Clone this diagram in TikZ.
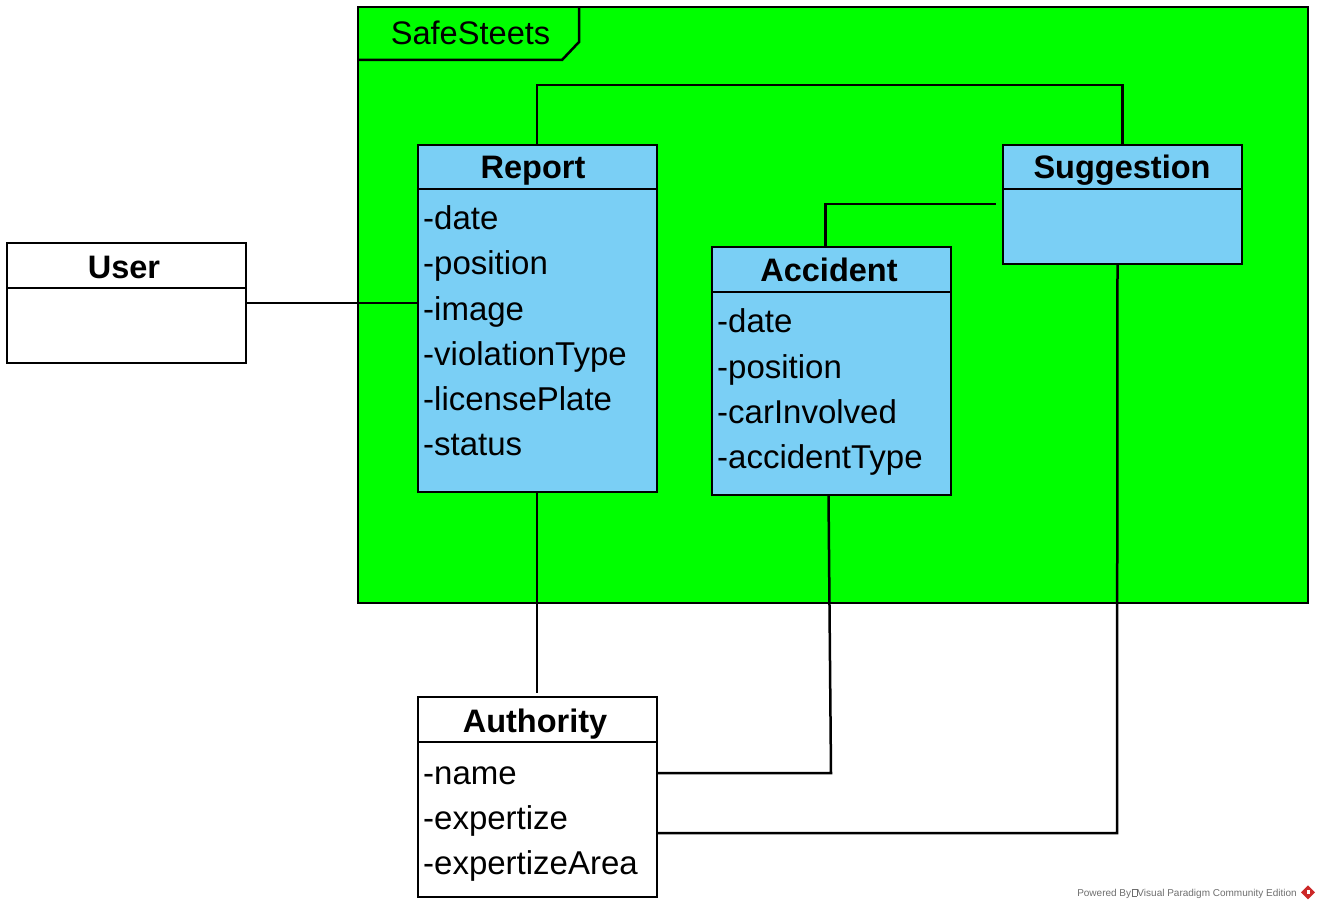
\documentclass[tikz,border=0pt]{standalone}
\usepackage{fontspec}
\setmainfont{Liberation Sans}
\definecolor{pkggreen}{RGB}{0,255,0}
\definecolor{clsblue}{RGB}{122,207,245}
\definecolor{wmgray}{RGB}{110,110,110}
\definecolor{vpred}{RGB}{204,40,40}
\tikzset{
  cls/.style={draw=black, line width=2.5pt, anchor=north west, inner sep=0pt, outer sep=0pt, minimum width=239pt},
  ttl/.style={anchor=base, inner sep=0pt, font=\fontsize{32.5}{36}\selectfont\bfseries},
  attr/.style={anchor=base west, inner sep=0pt, font=\fontsize{33}{36}\selectfont},
  conn/.style={draw=black, line width=2.5pt},
  divline/.style={draw=black, line width=2.5pt},
}
\begin{document}
\begin{tikzpicture}[x=1pt,y=-1pt]
\useasboundingbox (0,0) rectangle (1320,909);
% package
\node[draw=black, fill=pkggreen, line width=2.5pt, anchor=north west, inner sep=0pt, outer sep=0pt,
      minimum width=950pt, minimum height=596pt] (pkg) at (358,7) {};
\draw[divline] (359,60) -- (562,60) -- (579,42) -- (579,8);
\node[anchor=base, inner sep=0pt, font=\fontsize{32.6}{36}\selectfont] (pkgname) at (470.5,45) {SafeSteets};

% Report
\node[cls, fill=clsblue, minimum height=347pt] (report) at (418,145) {};
\draw[divline] (418,189) -- (657,189);
\node[ttl] (reportT) at (533,179) {Report};
\node[attr] (r1) at (423,230) {-date};
\node[attr] (r2) at (423,275) {-position};
\node[attr] (r3) at (423,320) {-image};
\node[attr] (r4) at (423,365) {-violationType};
\node[attr] (r5) at (423,410) {-licensePlate};
\node[attr] (r6) at (423,455) {-status};

% Suggestion
\node[cls, fill=clsblue, minimum height=119pt] (sugg) at (1003,145) {};
\draw[divline] (1003,189) -- (1242,189);
\node[ttl] (suggT) at (1122,179) {Suggestion};

% Accident
\node[cls, fill=clsblue, minimum height=248pt] (acc) at (712,247) {};
\draw[divline] (712,292) -- (951,292);
\node[ttl] (accT) at (829,282) {Accident};
\node[attr] (a1) at (717,333) {-date};
\node[attr] (a2) at (717,378) {-position};
\node[attr] (a3) at (717,423) {-carInvolved};
\node[attr] (a4) at (717,468) {-accidentType};

% User
\node[cls, fill=white, minimum height=120pt] (user) at (7,243) {};
\draw[divline] (7,288) -- (246,288);
\node[ttl] (userT) at (124,279) {User};

% Authority
\node[cls, fill=white, minimum height=200pt] (auth) at (418,697) {};
\draw[divline] (418,742) -- (657,742);
\node[ttl] (authT) at (535,732) {Authority};
\node[attr] (u1) at (423,784) {-name};
\node[attr] (u2) at (423,829) {-expertize};
\node[attr] (u3) at (423,874) {-expertizeArea};

% connectors
\coordinate (accEnd) at (996,204);
\coordinate (accBend) at (831,773);
\coordinate (sugBend) at (1117,833);
\draw[conn] ([xshift=-0.5pt]report.north) -- (537,85) -| (sugg.north);
\draw[conn] ([xshift=-6pt]acc.north) |- (accEnd);
\draw[conn] (user.east) -- (user.east -| report.west);
\draw[conn] ([xshift=-0.5pt]report.south) -- ([xshift=-0.5pt,yshift=4pt]auth.north);
\draw[conn] ([xshift=-3pt]acc.south) -- (accBend) -- (accBend -| auth.east);
\draw[conn] ([xshift=-5pt]sugg.south) -- (sugBend) -- (sugBend -| auth.east);

% watermark
\node[anchor=base east, inner sep=0pt, text=wmgray, font=\fontsize{10}{11}\selectfont] (wm) at (1297,896)
  {Powered By\hspace{0.5pt}{\fboxsep=0pt\fboxrule=0.4pt\fbox{\rule{0pt}{7pt}\hspace{4.5pt}}}\hspace{0.5pt}Visual Paradigm Community Edition};
\fill[vpred] (wm.east) ++(11,-8) coordinate (lg) -- ++(7,7) -- ++(-7,7) -- ++(-7,-7) -- cycle;
\fill[white] (lg) ++(-1.5,5) rectangle ++(3.5,3.5);
\end{tikzpicture}
\end{document}
